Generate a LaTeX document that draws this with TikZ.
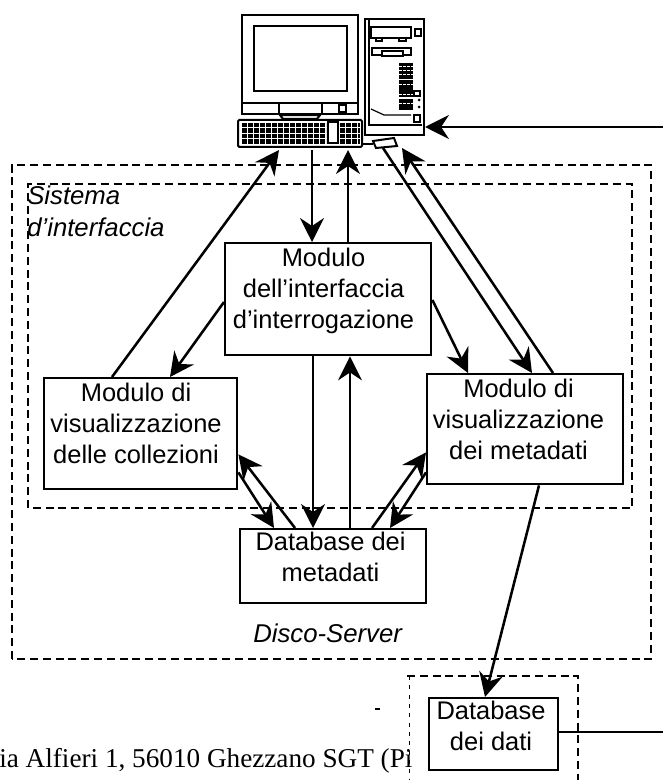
\documentclass[tikz,border=0pt]{standalone}
\usepackage{fontspec}
\setmainfont{Liberation Sans}
\newfontfamily\timesfont{Liberation Serif}
\usetikzlibrary{arrows.meta,calc}
\tikzset{
  x=0.75pt,y=-0.75pt,
  modbox/.style={draw=black,line width=1.8pt,fill=white,align=center,inner sep=0pt,anchor=north west,font=\fontsize{19.1}{23}\selectfont},
  bound/.style={draw=black,line width=1.3pt,dash pattern=on 6pt off 3.6pt},
  conn/.style={draw=black,line width=1.9pt,-{Stealth[length=18pt,width=18pt,inset=6pt]}},
  thin conn/.style={draw=black,line width=1.2pt,-{Stealth[length=18pt,width=18pt,inset=6pt]}},
  hw/.style={draw=black,line width=0.9pt,fill=white},
  hwk/.style={draw=black,line width=1.5pt},
  captext/.style={font=\fontsize{19.3}{24}\selectfont\itshape,align=left},
}
\begin{document}
\begin{tikzpicture}
\useasboundingbox (0,0) rectangle (663,780);
% boundaries
\draw[bound] (12,659) -- (12,165) -- (651,165) -- (651,659) -- cycle;
\draw[bound] (28,508) -- (28,184) -- (632,184) -- (632,508) -- cycle;
\draw[bound] (407,676) -- (578,676) -- (578,780);
\draw[draw=black,line width=0.6pt,dash pattern=on 3pt off 4pt] (409,676) -- (409,780);
% computer
\draw[hwk,fill=white] (242,15) rectangle (358,114);
\draw[hwk] (254,26) rectangle (347,91);
\draw[hw] (279,103) -- (279,114) (322,103) -- (322,114) (242,103) -- (358,103);
\draw[hw] (339,105) rectangle (346,112);
\draw[black,line width=1.6pt] (280,115) -- (320,115) -- (317,119) -- (283,119) -- cycle;
\draw[hw] (365,19) rectangle (424,135);
\draw[hwk] (369,20) -- (369,125) -- (422,125);
\draw[hw] (371,27) rectangle (411,38);
\draw[hw] (376,38) rectangle (382,41) (399,38) rectangle (406,41);
\draw[hw] (415,29) rectangle (421,36);
\draw[hw] (372,48) rectangle (411,55);
\draw[hw] (382,51) rectangle (403,56);
\foreach \y/\h in {63/16,80/10,89/8,99/11}{\fill[black] (399,\y) rectangle (413,\y+\h);}
\foreach \y in {66,70,74,84,94,103}{\draw[white,line width=0.5pt,dash pattern=on 2pt off 1pt] (399,\y) -- (413,\y);}
\draw[hw] (414,91) rectangle (420,96) (414,115) rectangle (420,122);
\fill (419,100) circle (1.5) (419,107) circle (1.5);
\draw[hw] (371,109) -- (384,115) -- (411,115);
\draw[hwk,fill=white,rounded corners=1pt] (238,120) rectangle (362,147);
\foreach \r in {0,1,2,3}{
  \draw[black,line width=3.2pt,dash pattern=on 3.4pt off 1.1pt] (242,125+\r*5.5) -- (326,125+\r*5.5);
  \draw[black,line width=3.2pt,dash pattern=on 3.4pt off 1.1pt] (340,125+\r*5.5) -- (360,125+\r*5.5);
}
\draw[black,line width=1.2pt] (328,122) rectangle (338,143);
\draw[black,line width=1.4pt] (362,144) -- (373,144);
\draw[hwk,fill=white] (373,141) -- (394,138) -- (397,146) -- (376,148) -- cycle;
% hardware anchors
\coordinate (kbA) at (279,150);
\coordinate (kbB) at (312,150);
\coordinate (kbC) at (348,150);
\coordinate (trA) at (383,148);
\coordinate (trB) at (402,148);
\coordinate (trC) at (425,127);
\coordinate (exA) at (663,127);
\coordinate (exB) at (663,732);
% modules: text height/depth place the last baseline
\node[modbox,minimum width=154.5pt,minimum height=84pt,text height=63.75pt,text depth=20.25pt] (central) at (224,242) {Modulo\kern7pt\\dell'interfaccia\kern7pt\\d'interrogazione\kern7pt};
\node[modbox,minimum width=144.75pt,minimum height=83.25pt,text height=63.75pt,text depth=19.5pt] (left) at (43,377) {Modulo di\kern7pt\\visualizzazione\kern7pt\\delle collezioni\kern7pt};
\node[modbox,minimum width=147pt,minimum height=82.5pt,text height=63.75pt,text depth=18.75pt] (right) at (426,373) {Modulo di\kern10pt\\visualizzazione\kern10pt\\dei metadati\kern10pt};
\node[modbox,minimum width=139.5pt,minimum height=55.5pt,text height=39pt,text depth=16.5pt] (meta) at (239,528) {Database dei\kern4pt\\metadati\kern4pt};
\node[modbox,minimum width=96.75pt,minimum height=54pt,text height=39pt,text depth=15pt] (dati) at (428,697) {Database\kern4pt\\dei dati\kern4pt};
% labels
\node[captext,anchor=base west,inner sep=0pt] (l1) at (27,205) {Sistema};
\node[captext,anchor=base west,inner sep=0pt] (l1b) at (27,237) {d'interfaccia};
\node[captext,anchor=base west,inner sep=0pt] (l2) at (253,642) {Disco-Server};
\node[anchor=base west,inner sep=0pt,font=\fontsize{20.4}{22}\selectfont\timesfont] (addr) at (-1,767) {ia Alfieri 1, 56010 Ghezzano SGT (Pi};
\draw[black,line width=1.2pt] (375,709) -- (380,709);
% connectors
\draw[conn] ([shift={(69,0)}]left.north west) -- (kbA);
\draw[thin conn] (kbB) -- ([shift={(88,0)}]central.north west);
\draw[conn] ([shift={(124,0)}]central.north west) -- (kbC);
\draw[conn] (trA) -- ([shift={(106,0)}]right.north west);
\draw[conn] ([shift={(127,0)}]right.north west) -- (trB);
\draw[conn] ([shift={(0,60)}]central.north west) -- ([shift={(127,0)}]left.north west);
\draw[conn] ([shift={(0,58)}]central.north east) -- ([shift={(42,0)}]right.north west);
\draw[thin conn] ([shift={(89,0)}]central.south west) -- ([shift={(74,0)}]meta.north west);
\draw[conn] ([shift={(111,0)}]meta.north west) -- ([shift={(126,0)}]central.south west);
\draw[conn] ([shift={(56,0)}]meta.north west) -- ([shift={(0,-36)}]left.south east);
\draw[conn] ([shift={(0,-18)}]left.south east) -- ([shift={(35,0)}]meta.north west);
\draw[conn] ([shift={(133,0)}]meta.north west) -- ([shift={(0,-33)}]right.south west);
\draw[conn] ([shift={(0,-13)}]right.south west) -- ([shift={(151,0)}]meta.north west);
\draw[conn] ([shift={(113,0)}]right.south west) -- ([shift={(57,0)}]dati.north west);
\draw[conn] (exA) -- (trC);
\draw[black,line width=1.9pt] (dati.east |- exB) -- (exB);
\end{tikzpicture}
\end{document}
